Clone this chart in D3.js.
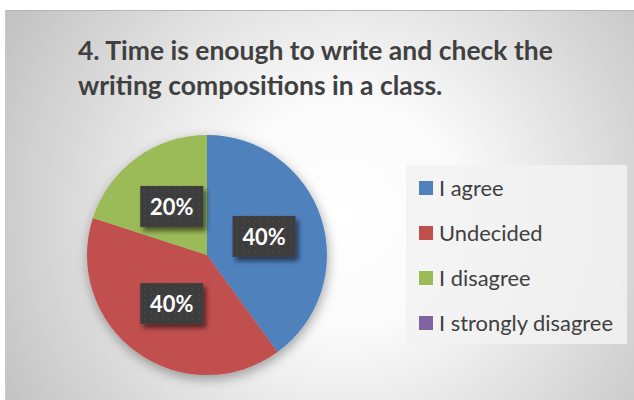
<!DOCTYPE html>
<html>
<head>
<meta charset="utf-8">
<script src="https://cdn.jsdelivr.net/npm/d3@7"></script>
<style>
  html, body { margin: 0; padding: 0; background: #ffffff; }
  svg { display: block; }
</style>
</head>
<body>
<svg id="chart" width="634" height="400"></svg>
<script>
// Survey answers and their shares (percent)
const categories = ["I agree", "Undecided", "I disagree", "I strongly disagree"];
const values = [40, 40, 20, 0];
const colors = ["#4F81BD", "#C0504D", "#9BBB59", "#8064A2"];
const titleLines = ["4. Time is enough to write and check the", "writing compositions in a class."];

const W = 634, H = 400;
const svg = d3.select("#chart");
const defs = svg.append("defs");

// Soft radial background of the chart area
const bg = defs.append("radialGradient").attr("id", "bgGrad")
  .attr("gradientUnits", "userSpaceOnUse")
  .attr("cx", 345).attr("cy", 215).attr("r", 400);
bg.append("stop").attr("offset", "0%").attr("stop-color", "#ffffff");
bg.append("stop").attr("offset", "30%").attr("stop-color", "#fafafa");
bg.append("stop").attr("offset", "100%").attr("stop-color", "#c0c0c0");

// Shadows
const pieShadow = defs.append("filter").attr("id", "pieShadow")
  .attr("x", "-30%").attr("y", "-30%").attr("width", "160%").attr("height", "160%");
pieShadow.append("feDropShadow").attr("dx", 1).attr("dy", 4).attr("stdDeviation", 6)
  .attr("flood-color", "#000").attr("flood-opacity", 0.35);

const boxShadow = defs.append("filter").attr("id", "boxShadow")
  .attr("x", "-30%").attr("y", "-30%").attr("width", "160%").attr("height", "170%");
boxShadow.append("feDropShadow").attr("dx", 3).attr("dy", 4).attr("stdDeviation", 2.5)
  .attr("flood-color", "#000").attr("flood-opacity", 0.55);

// Faint dotted texture for the data-label boxes
const dots = defs.append("pattern").attr("id", "dots")
  .attr("patternUnits", "userSpaceOnUse").attr("width", 6).attr("height", 6);
dots.append("rect").attr("width", 6).attr("height", 6).attr("fill", "#3d3d3d");
dots.append("circle").attr("cx", 3).attr("cy", 3).attr("r", 1).attr("fill", "#4a4a4a");

// Chart area
svg.append("rect").attr("x", 5).attr("y", 10).attr("width", W - 5).attr("height", H - 10)
  .attr("fill", "url(#bgGrad)");
svg.append("line").attr("x1", 5).attr("x2", W).attr("y1", 10.5).attr("y2", 10.5)
  .attr("stroke", "#b5b5b5").attr("stroke-width", 1);
svg.append("line").attr("x1", 5.5).attr("x2", 5.5).attr("y1", 10).attr("y2", H)
  .attr("stroke", "#c9c9c9").attr("stroke-width", 1);

const fontStack = "Lato, 'Open Sans', 'Noto Sans', sans-serif";

// Draw text at a given size, then squeeze it horizontally to a target width
function squeeze(sel, x, targetWidth) {
  const w = sel.node().getComputedTextLength();
  const k = targetWidth / w;
  sel.attr("transform", `translate(${x},0) scale(${k},1)`).attr("x", 0);
}

// Title
const title = svg.append("g").attr("fill", "#404040")
  .style("font-family", fontStack).style("font-weight", "bold");
const tLines = title.selectAll("text").data(titleLines).join("text")
  .attr("x", 0).attr("y", (d, i) => 60 + i * 35)
  .style("font-size", "26px")
  .text(d => d);
const kTitle = 475 / tLines.node().getComputedTextLength();
tLines.attr("transform", `translate(78,0) scale(${kTitle},1)`);

// Pie
const cx = 207, cy = 255, R = 120;
const pie = d3.pie().sort(null).value(d => d)
  .startAngle(0).endAngle(2 * Math.PI);
const arcs = pie(values);
const arc = d3.arc().innerRadius(0).outerRadius(R);
const color = d3.scaleOrdinal().domain(categories).range(colors);

const pieG = svg.append("g").attr("transform", `translate(${cx},${cy})`);
pieG.append("g").attr("filter", "url(#pieShadow)")
  .selectAll("path").data(arcs).join("path")
  .attr("d", arc)
  .attr("fill", (d, i) => color(categories[i]))
  .attr("stroke", "none");

// Data labels
const fmt = d3.format(".0%");
const total = d3.sum(values);
const labelG = pieG.selectAll("g.lbl").data(arcs.filter(d => d.value > 0)).join("g")
  .attr("class", "lbl")
  .attr("transform", d => `translate(${arc.centroid(d)})`);
labelG.append("rect")
  .attr("x", -31.5).attr("y", -20.5).attr("width", 63).attr("height", 41)
  .attr("fill", "url(#dots)").attr("filter", "url(#boxShadow)");
labelG.append("text")
  .attr("text-anchor", "middle").attr("dy", "0.36em")
  .attr("fill", "#ffffff")
  .style("font-family", fontStack).style("font-weight", "bold").style("font-size", "23px")
  .attr("transform", "scale(0.95,1)")
  .text(d => fmt(d.value / total));

// Legend
svg.append("rect").attr("x", 406).attr("y", 165).attr("width", 221).attr("height", 179)
  .attr("fill", "#f2f2f2").attr("fill-opacity", 0.85);
const legend = svg.append("g");
const rowY = d3.scalePoint().domain(categories).range([188, 323]);
const item = legend.selectAll("g").data(categories).join("g")
  .attr("transform", d => `translate(419,${rowY(d)})`);
item.append("rect").attr("x", 0).attr("y", -7).attr("width", 14).attr("height", 14)
  .attr("fill", d => color(d));
const legText = item.append("text").attr("x", 0).attr("dy", "0.36em")
  .attr("fill", "#404040")
  .style("font-family", fontStack).style("font-size", "22px")
  .text(d => d);
// compress labels so the longest one spans its measured width
const kLeg = 174 / legText.filter(d => d === "I strongly disagree").node().getComputedTextLength();
legText.attr("transform", `translate(20,0) scale(${kLeg},1)`);
</script>
</body>
</html>
